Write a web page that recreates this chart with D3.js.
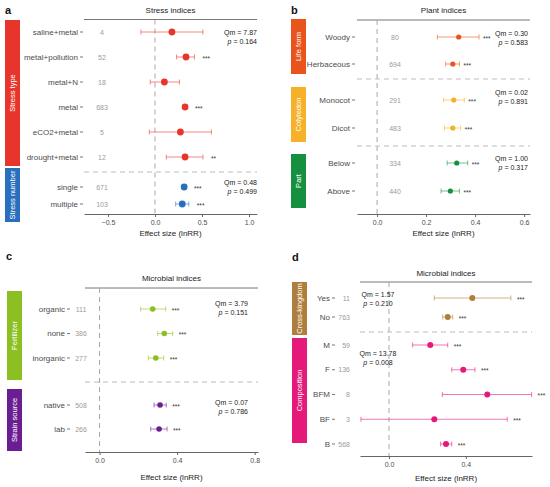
<!DOCTYPE html>
<html>
<head>
<meta charset="utf-8">
<script src="https://cdn.jsdelivr.net/npm/d3@7"></script>
<style>
  body { margin: 0; background: #fff; }
  text { font-family: "Liberation Sans", Arial, sans-serif; }
</style>
</head>
<body>
<div id="chart"></div>
<script>

// --------------------------------------------------------
// (1) Data
// --------------------------------------------------------

// (a) Stress indices
const aLabels = ["saline+metal", "metal+pollution", "metal+N", "metal", "eCO2+metal", "drought+metal", "single", "multiple"];
const aGroups = ["Stress type", "Stress type", "Stress type", "Stress type", "Stress type", "Stress type", "Stress number", "Stress number"];
const aN     = [4, 52, 18, 683, 5, 12, 671, 103];
const aMean  = [0.18, 0.33, 0.10, 0.32, 0.27, 0.32, 0.31, 0.29];
const aLow   = [-0.15, 0.23, -0.05, 0.30, -0.06, 0.12, 0.29, 0.22];
const aHigh  = [0.51, 0.42, 0.26, 0.34, 0.60, 0.51, 0.33, 0.36];
const aStars = ["", "***", "", "***", "", "**", "***", "***"];
const aQm    = ["7.87", "0.48"];
const aP     = ["0.164", "0.499"];
const aTicks = [-0.5, 0, 0.5, 1.0];

// (b) Plant indices
const bLabels = ["Woody", "Herbaceous", "Monocot", "Dicot", "Below", "Above"];
const bGroups = ["Life form", "Life form", "Cotyledon", "Cotyledon", "Part", "Part"];
const bN     = [80, 694, 291, 483, 334, 440];
const bMean  = [0.333, 0.309, 0.313, 0.309, 0.325, 0.299];
const bLow   = [0.246, 0.280, 0.271, 0.275, 0.286, 0.261];
const bHigh  = [0.416, 0.336, 0.356, 0.341, 0.370, 0.336];
const bStars = ["***", "***", "***", "***", "***", "***"];
const bQm    = ["0.30", "0.02", "1.00"];
const bP     = ["0.583", "0.891", "0.317"];
const bTicks = [0, 0.2, 0.4, 0.6];

// (c) Microbial indices: fertilizer / strain source
const cLabels = ["organic", "none", "inorganic", "native", "lab"];
const cGroups = ["Fertilizer", "Fertilizer", "Fertilizer", "Strain source", "Strain source"];
const cN     = [111, 386, 277, 508, 266];
const cMean  = [0.274, 0.334, 0.290, 0.312, 0.307];
const cLow   = [0.212, 0.300, 0.252, 0.281, 0.264];
const cHigh  = [0.341, 0.377, 0.331, 0.344, 0.348];
const cStars = ["***", "***", "***", "***", "***"];
const cQm    = ["3.79", "0.07"];
const cP     = ["0.151", "0.786"];
const cTicks = [0, 0.4, 0.8];

// (d) Microbial indices: cross-kingdom / composition
const dLabels = ["Yes", "No", "M", "F", "BFM", "BF", "B"];
const dGroups = ["Cross-kingdom", "Cross-kingdom", "Composition", "Composition", "Composition", "Composition", "Composition"];
const dN     = [11, 763, 59, 136, 8, 3, 568];
const dMean  = [0.434, 0.306, 0.215, 0.387, 0.512, 0.236, 0.297];
const dLow   = [0.236, 0.280, 0.123, 0.327, 0.278, -0.146, 0.269];
const dHigh  = [0.635, 0.332, 0.306, 0.448, 0.743, 0.616, 0.327];
const dStars = ["***", "***", "***", "***", "***", "***", "***"];
const dQm    = ["1.57", "13.78"];
const dP     = ["0.210", "0.008"];
const dTicks = [0, 0.4];


// --------------------------------------------------------
// (2) Main SVG
// --------------------------------------------------------

const svg = d3.select("#chart")
  .append("svg")
    .attr("width", 550)
    .attr("height", 487);

const labelColor = "#4d4d4d";


// --------------------------------------------------------
// (3) One forest-plot panel
// --------------------------------------------------------

function drawPanel(cfg, L) {

  const g = svg.append("g");

  const rows = cfg.labels.map((label, i) => ({
    label, group: cfg.groups[i], n: cfg.n[i],
    mean: cfg.mean[i], lo: cfg.low[i], hi: cfg.high[i], star: cfg.stars[i]
  }));
  const groupNames = Array.from(new Set(cfg.groups));

  // (31) scales
  const x = d3.scaleLinear().domain(L.domain).range(L.range);

  const yScales = {};
  groupNames.forEach((name, gi) => {
    yScales[name] = d3.scalePoint()
      .domain(rows.filter(r => r.group === name).map(r => r.label))
      .range(L.rowRange[gi]);
  });
  const y = r => yScales[r.group](r.label);

  // (32) panel letter + title
  g.append("text")
    .attr("x", L.letter[0]).attr("y", L.letter[1])
    .attr("font-size", 11).attr("font-weight", "bold").attr("fill", "#111")
    .text(cfg.letter);

  g.append("text")
    .attr("x", (L.range[0] + L.range[1]) / 2).attr("y", L.titleY)
    .attr("text-anchor", "middle").attr("font-size", 8).attr("fill", "#222")
    .text(cfg.title);

  g.append("line")
    .attr("x1", L.range[0]).attr("x2", L.range[1])
    .attr("y1", L.topY).attr("y2", L.topY)
    .attr("stroke", "#777").attr("stroke-width", 1);

  // (33) strips (text clipped to the strip, like the original)
  const stripW = 15;
  groupNames.forEach((name, gi) => {
    const s = L.strips[gi];
    const clipId = "clip-" + cfg.letter + gi;
    g.append("clipPath").attr("id", clipId)
      .append("rect")
        .attr("x", L.stripX).attr("y", s[0])
        .attr("width", stripW).attr("height", s[1] - s[0]);
    g.append("rect")
      .attr("x", L.stripX).attr("y", s[0])
      .attr("width", stripW).attr("height", s[1] - s[0])
      .attr("fill", cfg.colors[gi]);
    g.append("g")
      .attr("clip-path", `url(#${clipId})`)
      .append("text")
        .attr("transform", `translate(${L.stripX + stripW / 2}, ${(s[0] + s[1]) / 2}) rotate(-90)`)
        .attr("text-anchor", "middle").attr("dominant-baseline", "central")
        .attr("font-size", 7.5).attr("fill", "#fff")
        .text(name);
  });

  // (34) reference lines
  g.append("line")
    .attr("x1", x(0)).attr("x2", x(0))
    .attr("y1", L.topY).attr("y2", L.axisY)
    .attr("stroke", "#a8a8a8").attr("stroke-dasharray", "5,4");

  L.seps.forEach(sy => {
    g.append("line")
      .attr("x1", L.range[0]).attr("x2", L.range[1])
      .attr("y1", sy).attr("y2", sy)
      .attr("stroke", "#bdbdbd").attr("stroke-dasharray", "5,4");
  });

  // (35) x axis
  const ax = g.append("g")
    .attr("transform", `translate(0, ${L.axisY})`)
    .call(d3.axisBottom(x).tickValues(cfg.ticks).tickFormat(d3.format(".1f")).tickSize(3).tickSizeOuter(0));
  ax.select(".domain").attr("stroke", "#666");
  ax.selectAll(".tick line").attr("stroke", "#666");
  ax.selectAll("text").attr("font-size", 7).attr("fill", labelColor)
    .attr("font-family", "Liberation Sans, Arial, sans-serif");

  g.append("text")
    .attr("x", (L.range[0] + L.range[1]) / 2).attr("y", L.axisTitleY)
    .attr("text-anchor", "middle").attr("font-size", 8).attr("fill", "#222")
    .text("Effect size (lnRR)");

  // (36) row labels, ticks and counts
  g.selectAll(".lab").data(rows).join("text")
    .attr("x", L.labelX).attr("y", y)
    .attr("text-anchor", "end").attr("dominant-baseline", "central")
    .attr("font-size", 8).attr("fill", labelColor)
    .text(d => d.label);

  g.selectAll(".ytick").data(rows).join("line")
    .attr("x1", L.labelX + 2).attr("x2", L.labelX + 5)
    .attr("y1", y).attr("y2", y)
    .attr("stroke", "#777");

  g.selectAll(".cnt").data(rows).join("text")
    .attr("x", L.countX).attr("y", y)
    .attr("text-anchor", L.countAnchor).attr("dominant-baseline", "central")
    .attr("font-size", 7).attr("fill", "#9b9b9b")
    .text(d => d.n);

  // (37) error bars + points
  const colorOf = r => cfg.colors[groupNames.indexOf(r.group)];

  g.selectAll(".ci").data(rows).join("line")
    .attr("x1", d => x(d.lo)).attr("x2", d => x(d.hi))
    .attr("y1", y).attr("y2", y)
    .attr("stroke", colorOf).attr("stroke-opacity", 0.65).attr("stroke-width", 0.9);

  ["lo", "hi"].forEach(k => {
    g.selectAll(".cap" + k).data(rows).join("line")
      .attr("x1", d => x(d[k])).attr("x2", d => x(d[k]))
      .attr("y1", d => y(d) - 2.5).attr("y2", d => y(d) + 2.5)
      .attr("stroke", colorOf).attr("stroke-opacity", 0.65).attr("stroke-width", 0.9);
  });

  g.selectAll(".pt").data(rows).join("circle")
    .attr("cx", d => x(d.mean)).attr("cy", y)
    .attr("r", L.r)
    .attr("fill", colorOf);

  g.selectAll(".star").data(rows).join("text")
    .attr("x", d => x(d.hi) + L.starOff).attr("y", d => y(d) + 1)
    .attr("dominant-baseline", "central")
    .attr("font-size", 6.5).attr("fill", "#333")
    .text(d => d.star);

  // (38) Qm / p annotations
  groupNames.forEach((name, gi) => {
    const t = g.append("text")
      .attr("x", L.qmX).attr("y", L.qmY[gi])
      .attr("text-anchor", L.qmAnchor)
      .attr("font-size", 7).attr("fill", "#222");
    t.append("tspan").attr("x", L.qmX).attr("dy", 0).text(`Qm = ${cfg.qm[gi]}`);
    const p = t.append("tspan").attr("x", L.qmX).attr("dy", 8.5);
    p.append("tspan").attr("font-style", "italic").text("p");
    p.append("tspan").text(` = ${cfg.p[gi]}`);
  });
}


// --------------------------------------------------------
// (4) The four panels
// --------------------------------------------------------

drawPanel(
  { letter: "a", title: "Stress indices", labels: aLabels, groups: aGroups, n: aN,
    mean: aMean, low: aLow, high: aHigh, stars: aStars, qm: aQm, p: aP, ticks: aTicks,
    colors: ["#e8352c", "#2a6fbd"] },
  { domain: [-0.755, 1.085], range: [84, 257], letter: [5, 14], titleY: 13, topY: 19.5,
    axisY: 214, axisTitleY: 236, stripX: 5, strips: [[20, 166], [168, 222]],
    rowRange: [[32, 157], [187, 204]], seps: [172],
    labelX: 78, countX: 102, countAnchor: "middle", r: 3.4, starOff: 8,
    qmX: 257, qmY: [35, 185], qmAnchor: "end" });

drawPanel(
  { letter: "b", title: "Plant indices", labels: bLabels, groups: bGroups, n: bN,
    mean: bMean, low: bLow, high: bHigh, stars: bStars, qm: bQm, p: bP, ticks: bTicks,
    colors: ["#e8541c", "#f6b128", "#15903f"] },
  { domain: [-0.082, 0.624], range: [357, 530], letter: [291, 14], titleY: 13, topY: 20,
    axisY: 214, axisTitleY: 236, stripX: 291, strips: [[19, 74], [87, 142], [154, 208]],
    rowRange: [[37, 64], [100, 128], [163, 191]], seps: [79, 146],
    labelX: 350, countX: 395, countAnchor: "middle", r: 2.6, starOff: 4,
    qmX: 528, qmY: [36, 95, 161], qmAnchor: "end" });

drawPanel(
  { letter: "c", title: "Microbial indices", labels: cLabels, groups: cGroups, n: cN,
    mean: cMean, low: cLow, high: cHigh, stars: cStars, qm: cQm, p: cP, ticks: cTicks,
    colors: ["#8cbf21", "#6b1e92"] },
  { domain: [-0.075, 0.817], range: [85, 258], letter: [6, 260], titleY: 281, topY: 288,
    axisY: 452, axisTitleY: 480, stripX: 7, strips: [[291, 380], [389, 451]],
    rowRange: [[309, 358], [405, 429]], seps: [382],
    labelX: 65, countX: 81, countAnchor: "middle", r: 2.8, starOff: 6,
    qmX: 248, qmY: [306, 405], qmAnchor: "end" });

drawPanel(
  { letter: "d", title: "Microbial indices", labels: dLabels, groups: dGroups, n: dN,
    mean: dMean, low: dLow, high: dHigh, stars: dStars, qm: dQm, p: dP, ticks: dTicks,
    colors: ["#b07e3c", "#e5197a"] },
  { domain: [-0.151, 0.745], range: [360, 532], letter: [292, 261], titleY: 276, topY: 282,
    axisY: 456, axisTitleY: 481, stripX: 292, strips: [[282, 335], [338, 443]],
    rowRange: [[298, 317], [345, 444]], seps: [332],
    labelX: 330, countX: 350, countAnchor: "end", r: 3, starOff: 6,
    qmX: 378, qmY: [297, 356], qmAnchor: "middle" });

</script>
</body>
</html>
